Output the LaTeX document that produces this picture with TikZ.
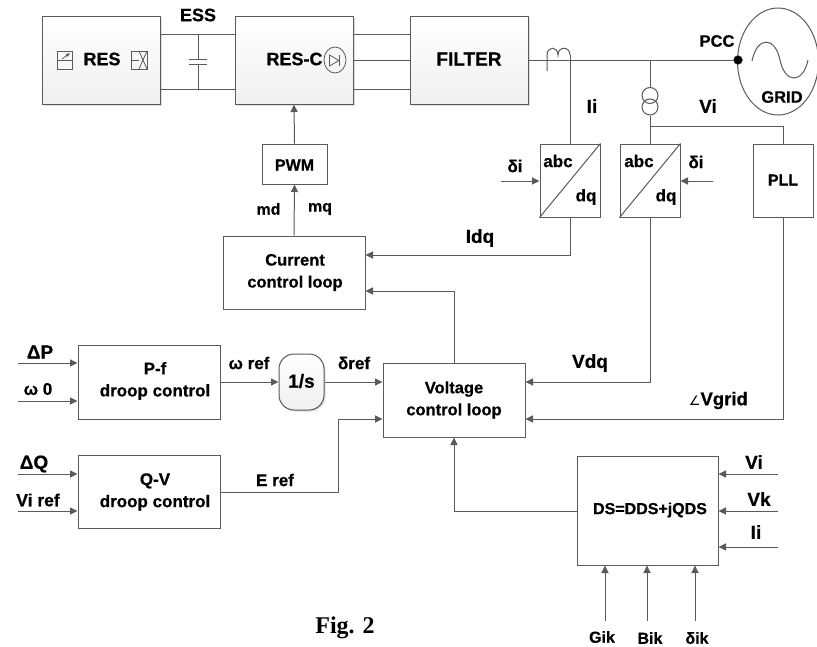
\documentclass[tikz,border=0pt]{standalone}
\usepackage{fontspec}
\setmainfont{Liberation Sans}[BoldFeatures={FakeBold=0.6}]
\newfontfamily\figfont{Liberation Serif}
\newfontfamily\symfont{DejaVu Sans}
\usetikzlibrary{arrows.meta,shapes.geometric,shadows,calc}
\definecolor{ln}{HTML}{5A5A5A}
\tikzset{
  x=1pt,y=-1pt,
  line/.style={draw=ln,line width=1pt},
  arr/.style={line,-{Triangle[length=7.5pt,width=7pt,fill=ln]}},
  box/.style={draw=ln,line width=1pt,inner sep=0pt,minimum width=#1},
  box/.default=142pt,
  grad/.style={draw=ln,line width=1pt,inner sep=0pt,minimum width=118pt,minimum height=88pt,
    top color=white,bottom color=black!6,
    drop shadow={shadow xshift=1.5pt,shadow yshift=-1.5pt,fill=black!18,opacity=.7}},
  lab/.style={inner sep=0pt,font=\fontsize{19}{21}\selectfont\bfseries,align=center},
  smalllab/.style={lab,font=\fontsize{16}{20}\selectfont\bfseries},
  midlab/.style={lab,font=\fontsize{17}{20}\selectfont\bfseries},
  icon/.style={draw=ln,line width=.8pt},
}
\begin{document}
\begin{tikzpicture}
\useasboundingbox[fill=white] (0,0) rectangle (817,646);

% main power blocks
\node[grad] (res) at (101,60) {};
\node[grad] (resc) at (294,60) {};
\node[grad] (filter) at (469,60) {};
\node[lab,font=\fontsize{18}{21}\selectfont\bfseries] (restxt) at (102,59) {RES};
\node[lab,font=\fontsize{18}{21}\selectfont\bfseries] (resctxt) at (294.5,59) {RES-C};
\node[lab] (filtertxt) at (469,59) {FILTER};

% RES icons
\draw[icon] (57,51) rectangle (72,69);
\draw[icon] (57,60) -- (72,60);
\draw[icon,-{Latex[length=4pt,width=4pt]}] (62,59) -- (70,53);
\draw[icon] (131,51) rectangle (147,69);
\draw[icon] (131,60) -- (139,60);
\draw[icon] (139,51) -- (147,69) (147,51) -- (139,69);

% diode in RES-C
\node[ellipse,draw=ln,line width=.8pt,minimum width=22pt,minimum height=26pt,inner sep=0pt] (diode) at (335,60) {};
\draw[icon] (329.5,55) -- (329.5,66) -- (339,60.5) -- cycle;
\draw[icon] (339.5,55) -- (339.5,66);

% ESS and capacitor
\node[lab,font=\fontsize{18}{21}\selectfont\bfseries] (ess) at (198,15) {ESS};
\coordinate (captop) at (198,34);
\coordinate (capbot) at (198,89);
\draw[line] (res.east|-captop) -- (resc.west|-captop);
\draw[line] (res.east|-capbot) -- (resc.west|-capbot);
\draw[line] (captop) -- (198,59) (198,64) -- (capbot);
\draw[line] (188.5,59) -- (207,59) (188.5,64) -- (207,64);

% three phase lines
\draw[line] (resc.east|-captop) -- (filter.west|-captop);
\draw[line] (resc.east) -- (filter.west);
\draw[line] (resc.east|-capbot) -- (filter.west|-capbot);

% grid
\node[ellipse,draw=ln,line width=1pt,minimum width=81pt,minimum height=107pt,inner sep=0pt] (grid) at (778,61.5) {};
\draw[line] (752,61) .. controls (757,36) and (775,36) .. (780,60) .. controls (785,84) and (803,84) .. (808,60);
\node[circle,fill=black,draw=ln,inner sep=0pt,minimum size=9pt] (pcc) at (738,60) {};
\node[lab,font=\fontsize{16.5}{20}\selectfont\bfseries] (pcclab) at (717,41) {PCC};
\node[lab,font=\fontsize{16.5}{20}\selectfont\bfseries] (gridlab) at (782,97) {GRID};
\draw[line] (filter.east) -- (pcc);

% transformation blocks
\node[box=60pt,minimum height=73pt] (abc1) at (570,180.5) {};
\node[box=60pt,minimum height=73pt] (abc2) at (650,180.5) {};
\node[box=60pt,minimum height=73pt] (pll) at (783,180.5) {};
\draw[line] (abc1.south west) -- (abc1.north east);
\draw[line] (abc2.south west) -- (abc2.north east);
\node[midlab] at (558,161) {abc};
\node[midlab] at (586,197) {dq};
\node[midlab] at (639,161) {abc};
\node[midlab] at (666,197) {dq};
\node[smalllab] at (783,180) {PLL};

% current transformer
\coordinate (cttop) at (570,55);
\draw[line] (547,71) -- (547,55) .. controls (547,46) and (558,46) .. (558,55) .. controls (558,46) and (570,46) .. (cttop);
\draw[line] (cttop) -- (abc1.north);

% voltage transformer
\coordinate (bus) at (650,60);
\coordinate (vtap) at (650,126);
\node[circle,draw=ln,line width=1pt,minimum size=16pt,inner sep=0pt] (vt1) at (650,95.5) {};
\node[circle,draw=ln,line width=1pt,minimum size=16pt,inner sep=0pt] (vt2) at (650,107) {};
\draw[line] (bus) -- (vt1.north);
\draw[line] (vt2.south) -- (vtap);
\draw[line] (vtap) -- (abc2.north);
\draw[line] (vtap) -| (pll.north);

\node[lab] at (592,106) {Ii};
\node[lab] at (708,106) {Vi};
\node[midlab] (d1) at (515,166) {δi};
\node[midlab] (d2) at (696,162) {δi};
\coordinate (d1s) at (501,181);
\coordinate (d2s) at (713,181);
\draw[arr] (d1s) -- (abc1.west|-d1s);
\draw[arr] (d2s) -- (abc2.east|-d2s);

% control blocks
\node[box=65pt,minimum height=40pt] (pwm) at (294.5,164) {};
\node[smalllab] at (294.5,165) {PWM};
\node[box=142pt,minimum height=73pt] (cur) at (294,272.5) {};
\node[lab,font=\fontsize{16.5}{22}\selectfont\bfseries] (curtxt) at (295,272.5) {Current\\control loop};
\node[box=142pt,minimum height=74pt] (volt) at (454,400) {};
\node[lab,font=\fontsize{16.5}{22}\selectfont\bfseries] (volttxt) at (454,400) {Voltage\\control loop};
\node[box=142pt,minimum height=74pt] (pf) at (149,382) {};
\node[lab,font=\fontsize{17}{22}\selectfont\bfseries] (pftxt) at (155,381) {P-f\\droop control};
\node[box=142pt,minimum height=73pt] (qv) at (149,491.5) {};
\node[lab,font=\fontsize{17}{22}\selectfont\bfseries] (qvtxt) at (155,492) {Q-V\\droop control};
\node[draw=ln,line width=1pt,rounded corners=15pt,minimum width=45pt,minimum height=56pt,inner sep=0pt,
  top color=white,bottom color=black!6,drop shadow={shadow xshift=1.5pt,shadow yshift=-1.5pt,fill=black!18,opacity=.7}] (int) at (301.5,382) {};
\node[lab] at (301.5,381) {1/s};
\node[box=141pt,minimum height=109pt] (ds) at (647.5,510.5) {};
\node[smalllab] at (650,510) {DS=DDS+jQDS};

% control connectors
\draw[arr] (pwm.north) -- (resc.south);
\draw[arr] (cur.north) -- (pwm.south);
\node[smalllab] at (268.5,209) {md};
\node[smalllab] at (320,209) {mq};

\coordinate (idq) at (570,255);
\draw[arr] (abc1.south) -- (idq) -- (cur.east|-idq);
\node[lab] at (480,238) {Idq};
\coordinate (vfb) at (454,291);
\draw[arr] (volt.north) -- (vfb) -- (cur.east|-vfb);

\coordinate (vdq) at (650,382);
\draw[arr] (abc2.south) -- (vdq) -- (volt.east|-vdq);
\node[lab] at (590,363) {Vdq};
\coordinate (vg) at (783,419);
\draw[arr] (pll.south) -- (vg) -- (volt.east|-vg);
\node[lab,anchor=east,font=\fontsize{18.5}{20}\selectfont\bfseries] at (748,400.5) {{\symfont\fontsize{13}{13}\selectfont\mdseries ∠}Vgrid};

\coordinate (pin1) at (18,363);
\coordinate (pin2) at (18,401);
\draw[arr] (pin1) -- (pf.west|-pin1);
\draw[arr] (pin2) -- (pf.west|-pin2);
\node[lab] at (40,352) {ΔP};
\node[midlab] at (38,389) {ω 0};
\draw[arr] (pf.east) -- (int.west);
\draw[arr] (int.east) -- (volt.west|-int.east);
\node[midlab] at (249,363) {ω ref};
\node[midlab] at (354,363) {δref};

\coordinate (qin1) at (18,474);
\coordinate (qin2) at (18,511);
\draw[arr] (qin1) -- (qv.west|-qin1);
\draw[arr] (qin2) -- (qv.west|-qin2);
\node[lab] at (34,464) {ΔQ};
\node[lab,font=\fontsize{17.5}{20}\selectfont\bfseries] at (38,500) {Vi ref};
\coordinate (eref) at (338,492);
\coordinate (erefup) at (338,419);
\draw[arr] (qv.east|-eref) -- (eref) -- (erefup) -- (volt.west|-erefup);
\node[midlab] at (275,480) {E ref};

\coordinate (dsc) at (454,511);
\draw[arr] (ds.west|-dsc) -- (dsc) -- (volt.south);

\coordinate (vi) at (778,474);
\coordinate (vk) at (778,511);
\coordinate (ii) at (778,547);
\draw[arr] (vi) -- (ds.east|-vi);
\draw[arr] (vk) -- (ds.east|-vk);
\draw[arr] (ii) -- (ds.east|-ii);
\node[lab] at (754,462) {Vi};
\node[lab] at (759,499) {Vk};
\node[lab] at (756,532) {Ii};

\coordinate (gik) at (605,621);
\coordinate (bik) at (647,621);
\coordinate (dik) at (695,621);
\draw[arr] (gik) -- (gik|-ds.south);
\draw[arr] (bik) -- (bik|-ds.south);
\draw[arr] (dik) -- (dik|-ds.south);
\node[smalllab] at (602,637) {Gik};
\node[smalllab] at (650,638) {Bik};
\node[smalllab] at (697,638) {δik};

\node[inner sep=0pt,font=\figfont\fontsize{24}{26}\selectfont\bfseries] at (345,628) {Fig. 2};
\end{tikzpicture}
\end{document}
